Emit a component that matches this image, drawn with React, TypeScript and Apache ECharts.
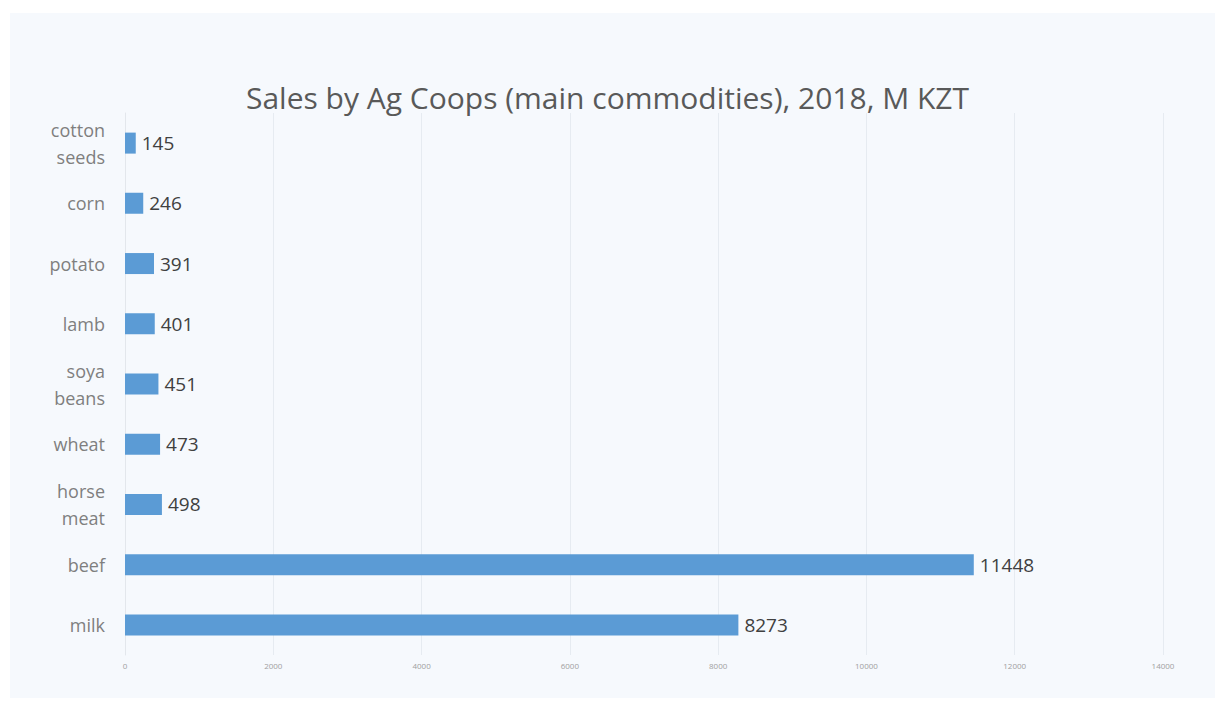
import React, { useEffect, useRef } from "react";
import * as echarts from "echarts";

const categories = ["cotton\nseeds", "corn", "potato", "lamb", "soya\nbeans", "wheat", "horse\nmeat", "beef", "milk"];
const values = [145, 246, 391, 401, 451, 473, 498, 11448, 8273];
const xTicks = [0, 2000, 4000, 6000, 8000, 10000, 12000, 14000];

export default function App() {
  const ref = useRef<HTMLDivElement>(null);
  useEffect(() => {
    const chart = echarts.init(ref.current!, null, { renderer: "svg" });
    chart.setOption({
      animation: false,
      backgroundColor: "#ffffff",
      graphic: [
        {
          type: "rect",
          z: -10,
          silent: true,
          shape: { x: 10, y: 13, width: 1205, height: 685 },
          style: { fill: "#f6f9fd" },
        },
      ],
      title: {
        text: "Sales by Ag Coops (main commodities), 2018, M KZT",
        left: "center",
        top: 77,
        textStyle: {
          fontFamily: "Open Sans",
          fontSize: 30,
          fontWeight: "normal",
          color: "#595959",
        },
      },
      grid: { left: 125, right: 52, top: 113, bottom: 47, containLabel: false },
      xAxis: {
        type: "value",
        min: xTicks[0],
        max: xTicks[xTicks.length - 1],
        interval: 2000,
        axisLine: { show: false },
        axisTick: { show: false },
        axisLabel: {
          fontSize: 8,
          color: "#a0a0a0",
          margin: 6,
          fontFamily: "Open Sans",
          formatter: (v: number) => String(v),
        },
        splitLine: { show: true, lineStyle: { color: "#e6ebf1", width: 1 } },
      },
      yAxis: {
        type: "category",
        inverse: true,
        data: categories,
        axisLine: { show: true, lineStyle: { color: "#e3e7ec" } },
        axisTick: { show: false },
        axisLabel: {
          fontSize: 18,
          color: "#7f7f7f",
          margin: 20,
          lineHeight: 27,
          fontFamily: "Open Sans",
          align: "right",
        },
      },
      series: [
        {
          type: "bar",
          data: values,
          barWidth: 21,
          itemStyle: { color: "#5b9bd5" },
          label: {
            show: true,
            position: "right",
            distance: 6,
            fontSize: 19,
            color: "#404040",
            fontFamily: "Open Sans",
          },
        },
      ],
    });
    return () => chart.dispose();
  }, []);
  return <div ref={ref} style={{ position: "fixed", left: 0, top: 0, width: 1215, height: 702 }} />;
}
